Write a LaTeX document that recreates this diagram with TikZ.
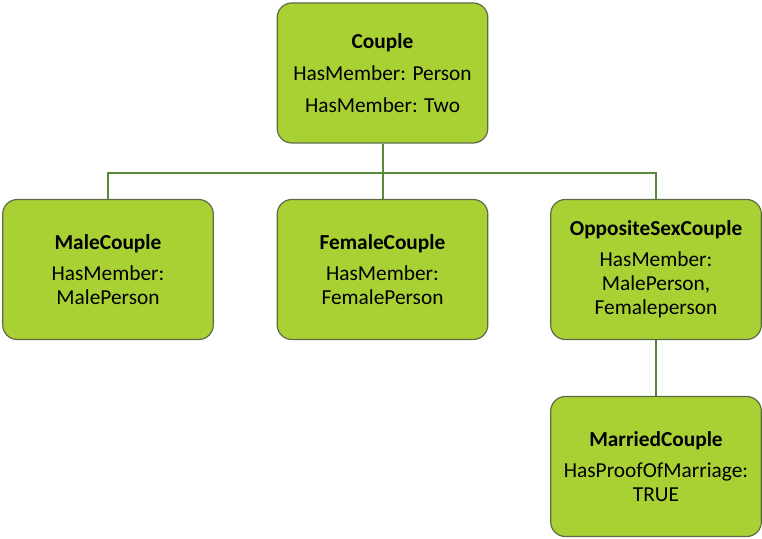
\documentclass[tikz,border=0pt]{standalone}
\usepackage{fontspec}
\setmainfont{Carlito}
\usepackage{xcolor}
\usepackage{tikz}
\definecolor{limefill}{HTML}{A9D134}
\definecolor{boxline}{HTML}{5F6B48}
\definecolor{linkgreen}{HTML}{5A8A38}
\tikzset{
    every node/.style={font=\fontsize{16}{18}\selectfont},
    cls/.style={draw=boxline, line width=0.9pt, fill=limefill, rounded corners=11pt,
        minimum width=158pt, minimum height=105pt, align=center, inner sep=2pt},
    link/.style={draw=linkgreen, line width=1.5pt}
}
\begin{document}
\begin{tikzpicture}[x=0.75pt, y=-0.75pt]
            \useasboundingbox (0,0) rectangle (762,538);
            \node[cls] (couple) at (382.5,73) {\textbf{Couple}\\[6pt] HasMember: Person\\[6pt] HasMember: Two};
            \node[cls] (male) at (108,269.5) {\textbf{MaleCouple}\\[5pt] HasMember:\\ MalePerson};
            \node[cls] (female) at (382.5,269.5) {\textbf{FemaleCouple}\\[5pt] HasMember:\\ FemalePerson};
            \node[cls] (opposite) at (656,269.5) {\textbf{OppositeSexCouple}\\[5pt] HasMember:\\ MalePerson,\\ Femaleperson};
            \node[cls] (married) at (656,466.5) {\textbf{MarriedCouple}\\[5pt] HasProofOfMarriage:\\ TRUE};
            \coordinate (bus) at (382.5,173);
            
            \draw[link] (couple.south) -- (bus);
            \draw[link] (bus) -| (male.north);
            \draw[link] (bus) -- (female.north);
            \draw[link] (bus) -| (opposite.north);
            \draw[link] (opposite.south) -- (married.north);
        \end{tikzpicture}
\end{document}
